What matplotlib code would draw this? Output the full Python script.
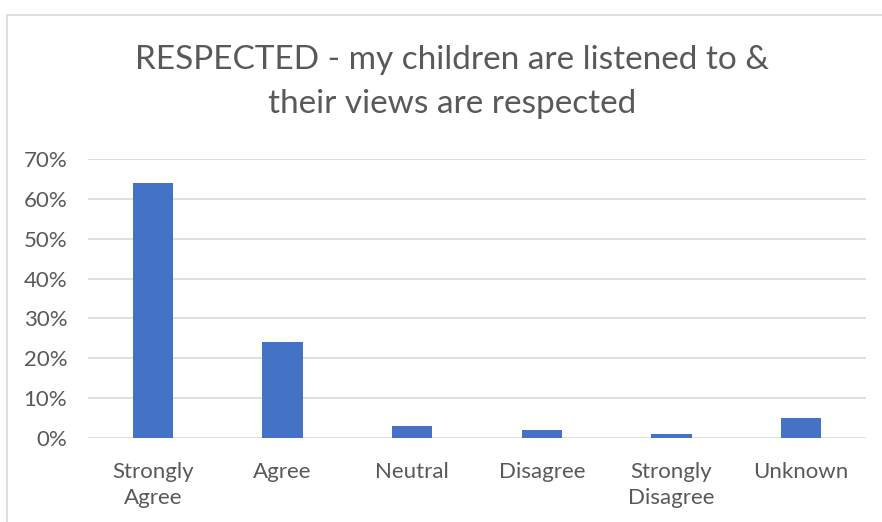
import matplotlib
matplotlib.use("Agg")
import matplotlib.pyplot as plt
import matplotlib.ticker as ticker
from matplotlib.patches import Rectangle

# ── Data ───────────────────────────────────────────────────────────────────────
categories = ["Strongly\nAgree", "Agree", "Neutral", "Disagree",
              "Strongly\nDisagree", "Unknown"]
shares = [0.64, 0.24, 0.03, 0.02, 0.01, 0.05]
yticks = [0.0, 0.1, 0.2, 0.3, 0.4, 0.5, 0.6, 0.7]
title_lines = ["RESPECTED - my children are listened to &",
               "their views are respected"]

BAR = "#4472c4"
GRID = "#d9d9d9"
TEXT = "#595959"

plt.rcParams["font.family"] = ["Lato", "DejaVu Sans"]

W, H = 882, 522
fig = plt.figure(figsize=(W / 100, H / 100), dpi=100)

# chart border (the crop cuts off right and bottom edges)
fig.patches.append(Rectangle((7 / W, -0.1), 2, 1.1 - 15 / H,
                             transform=fig.transFigure, fill=False,
                             edgecolor=GRID, lw=1.2))

ax = fig.add_axes([88 / W, (H - 438) / H, (866 - 88) / W, (438 - 159) / H])
x = range(len(categories))
ax.bar(x, shares, width=0.31, color=BAR, zorder=3)

ax.set_xlim(-0.5, len(categories) - 0.5)
ax.set_ylim(0, 0.7)
ax.set_yticks(yticks)
ax.yaxis.set_major_formatter(ticker.PercentFormatter(1.0, decimals=0))
ax.set_xticks(list(x))
ax.set_xticklabels(categories, linespacing=1.42)
ax.tick_params(axis="both", length=0, labelsize=16, colors=TEXT)
ax.tick_params(axis="x", pad=17)
ax.tick_params(axis="y", pad=15)
ax.grid(axis="y", color=GRID, lw=1.2, zorder=0)
for s in ax.spines.values():
    s.set_visible(False)

fig.text(452 / W, 1 - 60 / H, title_lines[0], ha="center", va="center",
         fontsize=24, color=TEXT)
fig.text(452 / W, 1 - 104 / H, title_lines[1], ha="center", va="center",
         fontsize=24, color=TEXT)

fig.savefig("out.png", dpi=100)
